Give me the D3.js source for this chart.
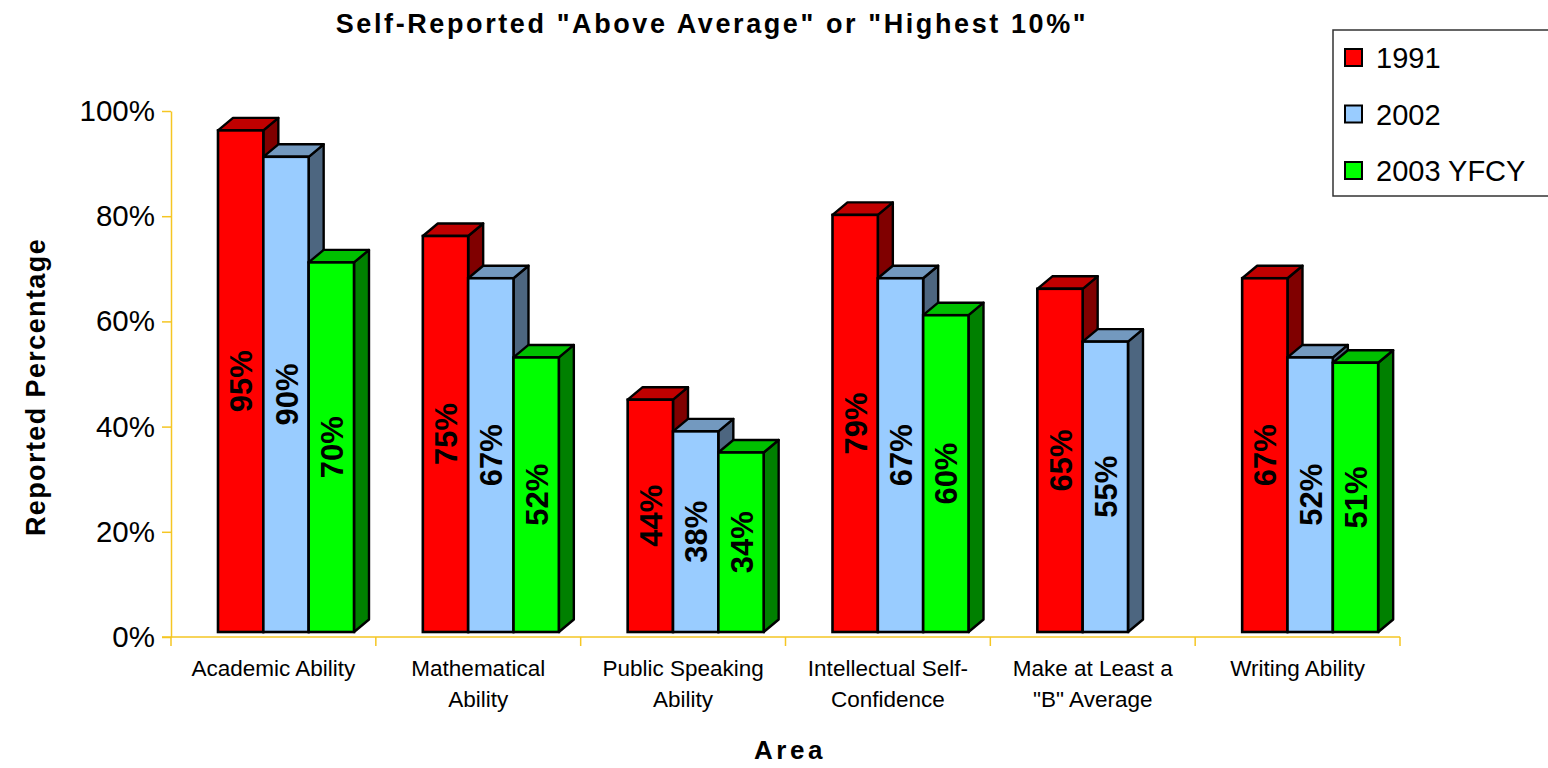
<!DOCTYPE html>
<html>
<head>
<meta charset="utf-8">
<script src="https://cdn.jsdelivr.net/npm/d3@7"></script>
<style>
  html, body { margin: 0; padding: 0; background: #fff; }
  svg { display: block; font-family: "Liberation Sans", Arial, sans-serif; }
</style>
</head>
<body>
<svg id="chart" width="1548" height="768"></svg>
<script>
// Self-reported ratings, share answering "Above Average" or "Highest 10%"
const categories = [
  "Academic Ability",
  "Mathematical Ability",
  "Public Speaking Ability",
  "Intellectual Self-Confidence",
  "Make at Least a \"B\" Average",
  "Writing Ability"
];
const categoryLines = [
  ["Academic Ability"],
  ["Mathematical", "Ability"],
  ["Public Speaking", "Ability"],
  ["Intellectual Self-", "Confidence"],
  ["Make at Least a", "\"B\" Average"],
  ["Writing Ability"]
];
const seriesNames = ["1991", "2002", "2003 YFCY"];
const values1991 = [0.95, 0.75, 0.44, 0.79, 0.65, 0.67];
const values2002 = [0.90, 0.67, 0.38, 0.67, 0.55, 0.52];
const values2003 = [0.70, 0.52, 0.34, 0.60, null, 0.51];
const yTicks = [0, 0.2, 0.4, 0.6, 0.8, 1.0];

const seriesValues = [values1991, values2002, values2003];
const faceColors = [
  { front: "#FF0000", top: "#C00000", side: "#800000" },
  { front: "#99CCFF", top: "#7399BF", side: "#4D6680" },
  { front: "#00FF00", top: "#00C000", side: "#008000" }
];

const svg = d3.select("#chart");
const axisColor = "#F5C623";

// value axis (drawn at the front plane) and bar scale (set back on the floor)
const y = d3.scaleLinear().domain([0, 1]).range([637, 111]);
const yBar = d3.scaleLinear().domain([0, 1]).range([632, 104]);
const x0 = d3.scaleBand().domain(categories).range([171, 1400]).paddingInner(0).paddingOuter(0);
const x1 = d3.scaleBand().domain(seriesNames).range([47, 183]).padding(0);
const depth = { dx: 15, dy: -12.5 };

// title
svg.append("text")
  .attr("x", 712).attr("y", 33)
  .attr("text-anchor", "middle")
  .attr("font-size", 27).attr("font-weight", "bold")
  .attr("letter-spacing", 2.6)
  .text("Self-Reported \"Above Average\" or \"Highest 10%\"");

// y axis
const yAxis = d3.axisLeft(y).tickValues(yTicks).tickFormat(d3.format(".0%"))
  .tickSizeInner(9).tickSizeOuter(0).tickPadding(7);
const gy = svg.append("g").attr("transform", "translate(171,0)").call(yAxis);
gy.select(".domain").attr("stroke", axisColor).attr("stroke-width", 1.5);
gy.selectAll(".tick line").attr("stroke", axisColor).attr("stroke-width", 1.5);
gy.selectAll(".tick text").attr("font-size", 29.5).attr("fill", "#000")
  .attr("font-family", "\"Liberation Sans\", Arial, sans-serif");

// x axis line with category boundary ticks
svg.append("line")
  .attr("x1", 162).attr("x2", 1400).attr("y1", 637).attr("y2", 637)
  .attr("stroke", axisColor).attr("stroke-width", 1.5);
const boundaries = categories.map(c => x0(c)).concat([x0.range()[1]]);
svg.selectAll("line.cat-tick").data(boundaries).join("line")
  .attr("class", "cat-tick")
  .attr("x1", d => d).attr("x2", d => d)
  .attr("y1", 637).attr("y2", 646)
  .attr("stroke", axisColor).attr("stroke-width", 1.5);

// category labels
const catG = svg.append("g");
categories.forEach((c, i) => {
  const t = catG.append("text")
    .attr("x", x0(c) + x0.bandwidth() / 2)
    .attr("y", 676)
    .attr("text-anchor", "middle")
    .attr("font-size", 22.5);
  categoryLines[i].forEach((ln, j) => {
    t.append("tspan").attr("x", x0(c) + x0.bandwidth() / 2)
      .attr("dy", j === 0 ? 0 : 31).text(ln);
  });
});

// 3D bars: front face, top face, right side face
const bars = [];
categories.forEach((c, i) => {
  seriesNames.forEach((s, k) => {
    const v = seriesValues[k][i];
    if (v == null) return;
    bars.push({ cat: c, series: s, k, v });
  });
});

const barG = svg.append("g");
bars.forEach(b => {
  const xl = x0(b.cat) + x1(b.series);
  const xr = xl + x1.bandwidth();
  const yt = yBar(b.v);
  const yb = yBar(0);
  const col = faceColors[b.k];
  const g = barG.append("g");
  // side face
  g.append("path")
    .attr("d", `M${xr},${yb} L${xr + depth.dx},${yb + depth.dy} L${xr + depth.dx},${yt + depth.dy} L${xr},${yt} Z`)
    .attr("fill", col.side).attr("stroke", "#000").attr("stroke-width", 2.4).attr("stroke-linejoin", "round");
  // top face
  g.append("path")
    .attr("d", `M${xl},${yt} L${xl + depth.dx},${yt + depth.dy} L${xr + depth.dx},${yt + depth.dy} L${xr},${yt} Z`)
    .attr("fill", col.top).attr("stroke", "#000").attr("stroke-width", 2.4).attr("stroke-linejoin", "round");
  // front face
  g.append("rect")
    .attr("x", xl).attr("y", yt)
    .attr("width", xr - xl).attr("height", yb - yt)
    .attr("fill", col.front).attr("stroke", "#000").attr("stroke-width", 2.6);
});

// value labels, rotated inside each bar
bars.forEach(b => {
  const cx = x0(b.cat) + x1(b.series) + x1.bandwidth() / 2;
  const cy = yBar(b.v / 2);
  svg.append("text")
    .attr("transform", `translate(${cx + 11.5},${cy}) rotate(-90)`)
    .attr("text-anchor", "middle")
    .attr("font-size", 31).attr("font-weight", "bold")
    .text(d3.format(".0%")(b.v));
});

// axis titles
svg.append("text")
  .attr("transform", "translate(45,387) rotate(-90)")
  .attr("text-anchor", "middle")
  .attr("font-size", 27).attr("font-weight", "bold")
  .attr("letter-spacing", 1.4)
  .text("Reported Percentage");

svg.append("text")
  .attr("x", 790).attr("y", 759)
  .attr("text-anchor", "middle")
  .attr("font-size", 26).attr("font-weight", "bold")
  .attr("letter-spacing", 3.5)
  .text("Area");

// legend
const legend = svg.append("g");
legend.append("rect")
  .attr("x", 1333).attr("y", 30).attr("width", 230).attr("height", 166)
  .attr("fill", "#fff").attr("stroke", "#333").attr("stroke-width", 1.5);
seriesNames.forEach((s, k) => {
  const cy = 57.5 + k * 56.5;
  legend.append("rect")
    .attr("x", 1345).attr("y", cy - 8.5).attr("width", 17).attr("height", 17)
    .attr("fill", faceColors[k].front).attr("stroke", "#000").attr("stroke-width", 2);
  legend.append("text")
    .attr("x", 1376).attr("y", cy + 10.5)
    .attr("font-size", 29)
    .text(s);
});
</script>
</body>
</html>
